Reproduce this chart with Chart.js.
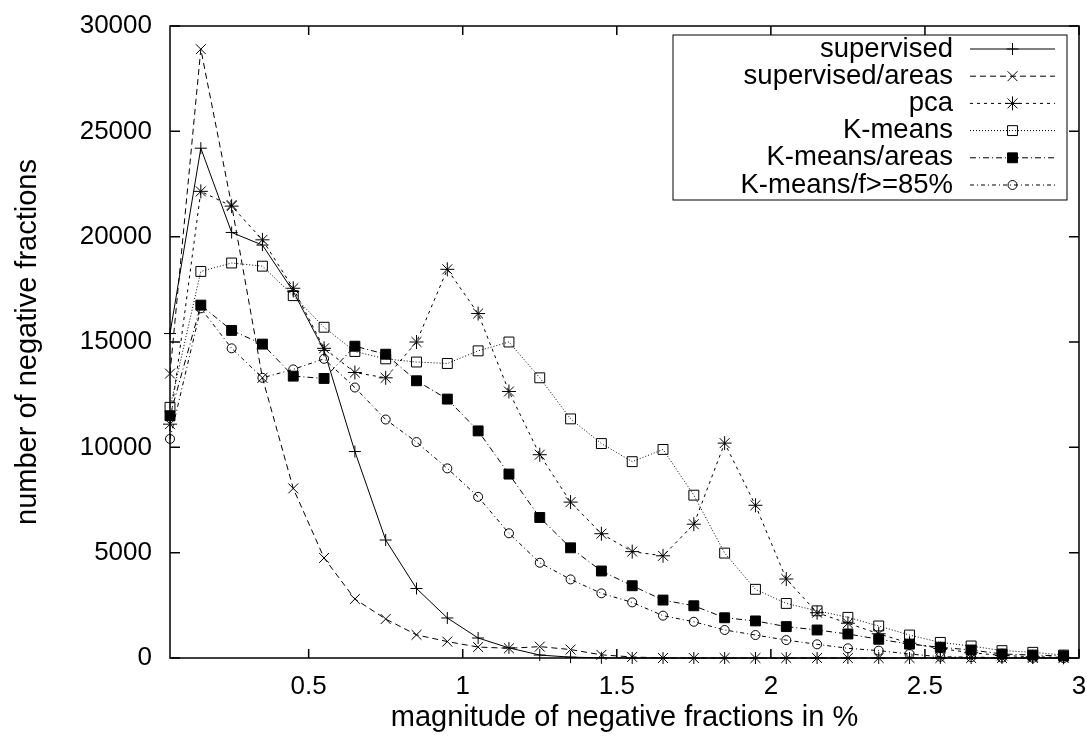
<!DOCTYPE html>
<html>
<head>
<meta charset="utf-8">
<script src="https://cdn.jsdelivr.net/npm/chart.js@4.4.0/dist/chart.umd.min.js"></script>
<style>
    html, body { margin: 0; padding: 0; background: #fff; }
    #wrap { width: 1087px; height: 740px; }
</style>
</head>
<body>
<div id="wrap"><canvas id="negChart"></canvas></div>
<script>
// magnitude of negative fractions (bin centres, %)
const magnitudes = [0.05, 0.15, 0.25, 0.35, 0.45, 0.55, 0.65, 0.75, 0.85, 0.95,
    1.05, 1.15, 1.25, 1.35, 1.45, 1.55, 1.65, 1.75, 1.85, 1.95,
    2.05, 2.15, 2.25, 2.35, 2.45, 2.55, 2.65, 2.75, 2.85, 2.95];

const supervised = [15400, 24200, 20200, 19600, 17400, 14600, 9800, 5600, 3300, 1900,
    950, 480, 140, 40, 10, 0, 0, 0, 0, 0,
    0, 0, 0, 0, 0, 0, 0, 0, 0, 0];
const supervisedAreas = [13500, 28900, 21500, 13300, 8050, 4750, 2800, 1850, 1100, 780,
    520, 460, 540, 400, 150, 50, 0, 0, 0, 0,
    0, 0, 0, 0, 0, 0, 0, 0, 0, 0];
const pca = [11100, 22150, 21450, 19850, 17550, 14700, 13550, 13300, 15000, 18450,
    16350, 12650, 9650, 7400, 5900, 5050, 4850, 6350, 10200, 7250,
    3750, 2150, 1650, 1150, 700, 450, 250, 120, 60, 30];
const kmeans = [11900, 18350, 18750, 18600, 17200, 15700, 14550, 14200, 14050, 13980,
    14580, 15000, 13300, 11350, 10180, 9320, 9900, 7730, 4980, 3260,
    2590, 2240, 1930, 1520, 1090, 740, 570, 350, 270, 140];
const kmeansAreas = [11500, 16750, 15550, 14900, 13380, 13270, 14800, 14420, 13160, 12290,
    10780, 8730, 6670, 5230, 4130, 3430, 2750, 2480, 1910, 1760,
    1490, 1330, 1140, 890, 660, 510, 380, 190, 140, 100];
const kmeansF85 = [10400, 16600, 14700, 13300, 13700, 14200, 12840, 11320, 10250, 9000,
    7650, 5920, 4520, 3730, 3070, 2640, 2010, 1720, 1330, 1090,
    850, 650, 460, 350, 190, 60, 40, 20, 10, 0];

const xTicks = [0.5, 1, 1.5, 2, 2.5, 3];
const yTicks = [0, 5000, 10000, 15000, 20000, 25000, 30000];

const FONT = '"Liberation Sans", Arial, Helvetica, sans-serif';

function series(label, values, dash, style, radius, fill) {
    return {
        label: label,
        data: magnitudes.map((x, i) => ({ x: x, y: values[i] })),
        borderColor: '#000',
        backgroundColor: fill,
        borderWidth: 1,
        borderDash: dash,
        pointStyle: style,
        pointRadius: radius,
        pointHoverRadius: radius,
        pointBorderColor: '#000',
        pointBackgroundColor: fill,
        pointBorderWidth: 1,
        tension: 0,
        clip: false
    };
}

const datasets = [
    series('supervised', supervised, [], 'cross', 6, '#000'),
    series('supervised/areas', supervisedAreas, [6, 4], 'crossRot', 7, '#000'),
    series('pca', pca, [3, 4], 'star', 7, '#000'),
    series('K-means', kmeans, [1, 2], 'rect', 7, 'rgba(0,0,0,0)'),
    series('K-means/areas', kmeansAreas, [6, 3, 1, 3], 'rect', 7, '#000'),
    series('K-means/f>=85%', kmeansF85, [4, 3, 1, 3], 'circle', 4.5, 'rgba(0,0,0,0)')
];

// gnuplot style frame: inward ticks on all four sides
const frameTicks = {
    id: 'frameTicks',
    afterDatasetsDraw(chart) {
        const ctx = chart.ctx;
        const a = chart.chartArea;
        const xs = chart.scales.x, ys = chart.scales.y;
        ctx.save();
        ctx.strokeStyle = '#000';
        ctx.lineWidth = 1.5;
        ctx.setLineDash([]);
        ctx.strokeRect(a.left, a.top, a.right - a.left, a.bottom - a.top);
        ctx.beginPath();
        xTicks.forEach(v => {
            const px = xs.getPixelForValue(v);
            ctx.moveTo(px, a.bottom); ctx.lineTo(px, a.bottom - 9);
            ctx.moveTo(px, a.top); ctx.lineTo(px, a.top + 9);
        });
        yTicks.forEach(v => {
            const py = ys.getPixelForValue(v);
            ctx.moveTo(a.left, py); ctx.lineTo(a.left + 10, py);
            ctx.moveTo(a.right, py); ctx.lineTo(a.right - 10, py);
        });
        ctx.stroke();
        ctx.restore();
    }
};

// legend box in the upper right, text left of the line sample
const boxLegend = {
    id: 'boxLegend',
    afterDraw(chart) {
        const ctx = chart.ctx;
        const box = { left: 673, top: 35, right: 1067, bottom: 200 };
        const textRight = 953, lineFrom = 970, lineTo = 1055, rowTop = 49, rowStep = 27.2;
        ctx.save();
        ctx.fillStyle = '#fff';
        ctx.fillRect(box.left, box.top, box.right - box.left, box.bottom - box.top);
        ctx.strokeStyle = '#000';
        ctx.lineWidth = 1;
        ctx.strokeRect(box.left, box.top, box.right - box.left, box.bottom - box.top);
        ctx.font = '27.5px ' + FONT;
        ctx.textAlign = 'right';
        ctx.textBaseline = 'middle';
        chart.data.datasets.forEach((ds, i) => {
            const y = rowTop + i * rowStep;
            ctx.fillStyle = '#000';
            ctx.fillText(ds.label, textRight, y);
            ctx.beginPath();
            ctx.setLineDash(ds.borderDash);
            ctx.lineWidth = 1;
            ctx.moveTo(lineFrom, y);
            ctx.lineTo(lineTo, y);
            ctx.stroke();
            ctx.setLineDash([]);
            ctx.fillStyle = ds.pointBackgroundColor;
            ctx.strokeStyle = '#000';
            Chart.helpers.drawPoint(ctx, {
                pointStyle: ds.pointStyle, radius: ds.pointRadius, rotation: 0, borderWidth: 1
            }, (lineFrom + lineTo) / 2, y);
        });
        ctx.restore();
    }
};

new Chart(document.getElementById('negChart').getContext('2d'), {
    type: 'line',
    data: { datasets: datasets },
    options: {
        responsive: true,
        maintainAspectRatio: false,
        animation: false,
        layout: { padding: { top: 26, right: 8, left: 0, bottom: 0 } },
        plugins: {
            legend: { display: false },
            tooltip: { enabled: false }
        },
        scales: {
            x: {
                type: 'linear',
                min: 0.05,
                max: 3,
                afterBuildTicks: s => { s.ticks = xTicks.map(v => ({ value: v })); },
                afterFit: s => { s.height = 82; s.paddingLeft = 0; s.paddingRight = 0; },
                grid: { display: false, drawTicks: false },
                border: { display: false },
                ticks: {
                    color: '#000',
                    padding: 13,
                    maxRotation: 0,
                    font: { family: FONT, size: 26 },
                    callback: v => String(v)
                },
                title: {
                    display: true,
                    text: 'magnitude of negative fractions in %',
                    color: '#000',
                    font: { family: FONT, size: 29 },
                    padding: { top: 0, bottom: 5 }
                }
            },
            y: {
                min: 0,
                max: 30000,
                afterBuildTicks: s => { s.ticks = yTicks.map(v => ({ value: v })); },
                afterFit: s => { s.width = 170; s.paddingTop = 0; s.paddingBottom = 0; },
                grid: { display: false, drawTicks: false },
                border: { display: false },
                ticks: {
                    color: '#000',
                    padding: 18,
                    font: { family: FONT, size: 26 },
                    callback: v => String(v)
                },
                title: {
                    display: true,
                    text: 'number of negative fractions',
                    color: '#000',
                    font: { family: FONT, size: 29 },
                    padding: { top: 11, bottom: 0 }
                }
            }
        }
    },
    plugins: [frameTicks, boxLegend]
});
</script>
</body>
</html>
